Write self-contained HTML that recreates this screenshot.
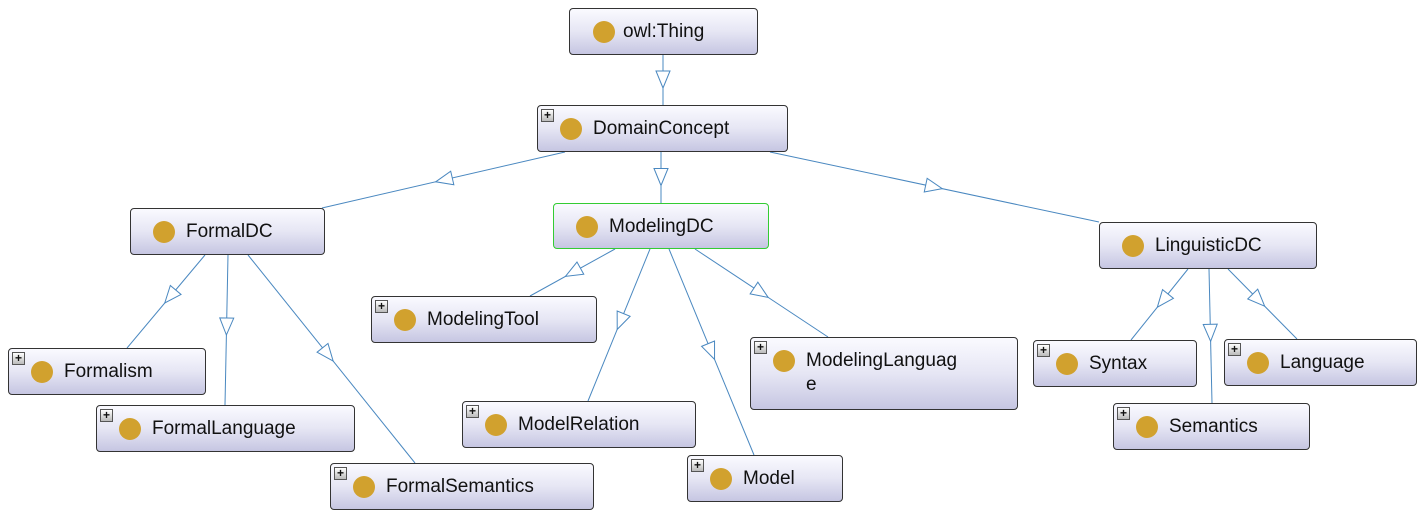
<!DOCTYPE html>
<html><head><meta charset="utf-8"><style>
body{margin:0;width:1424px;height:517px;background:#fff;position:relative;overflow:hidden;font-family:"Liberation Sans",sans-serif}
svg{position:absolute;left:0;top:0}
.n{position:absolute;box-sizing:border-box;border:1px solid #333;border-radius:4px;background:linear-gradient(#fafaff,#e6e6f4 50%,#c6c6e2);font-size:19px;color:#111}
.n .c{position:absolute;left:22px;top:12px;width:22px;height:22px;border-radius:50%;background:#d1a12e}
.n .t{position:absolute;left:55px;top:11px;line-height:24px;white-space:nowrap}
.n .p{position:absolute;left:3px;top:3px;width:11px;height:11px;border:1px solid #555;background:linear-gradient(#fff,#bbb);font-size:12px;line-height:10px;text-align:center;font-weight:bold}
.g{border:1px solid #3c3;}
</style></head><body>
<svg id="s" width="1424" height="517"></svg>
<div class="n" style="left:569px;top:8px;width:189px;height:47px"><div class="c" style="left:23px"></div><div class="t" style="left:53px">owl:Thing</div></div>
<div class="n" style="left:537px;top:105px;width:251px;height:47px"><div class="p">+</div><div class="c"></div><div class="t">DomainConcept</div></div>
<div class="n" style="left:130px;top:208px;width:195px;height:47px"><div class="c"></div><div class="t">FormalDC</div></div>
<div class="n g" style="left:553px;top:203px;width:216px;height:46px"><div class="c"></div><div class="t">ModelingDC</div></div>
<div class="n" style="left:1099px;top:222px;width:218px;height:47px"><div class="c"></div><div class="t">LinguisticDC</div></div>
<div class="n" style="left:371px;top:296px;width:226px;height:47px"><div class="p">+</div><div class="c"></div><div class="t">ModelingTool</div></div>
<div class="n" style="left:8px;top:348px;width:198px;height:47px"><div class="p">+</div><div class="c"></div><div class="t">Formalism</div></div>
<div class="n" style="left:96px;top:405px;width:259px;height:47px"><div class="p">+</div><div class="c"></div><div class="t">FormalLanguage</div></div>
<div class="n" style="left:330px;top:463px;width:264px;height:47px"><div class="p">+</div><div class="c"></div><div class="t">FormalSemantics</div></div>
<div class="n" style="left:462px;top:401px;width:234px;height:47px"><div class="p">+</div><div class="c"></div><div class="t">ModelRelation</div></div>
<div class="n" style="left:687px;top:455px;width:156px;height:47px"><div class="p">+</div><div class="c"></div><div class="t">Model</div></div>
<div class="n" style="left:750px;top:337px;width:268px;height:73px"><div class="p">+</div><div class="c"></div><div class="t">ModelingLanguag<br>e</div></div>
<div class="n" style="left:1033px;top:340px;width:164px;height:47px"><div class="p">+</div><div class="c"></div><div class="t">Syntax</div></div>
<div class="n" style="left:1113px;top:403px;width:197px;height:47px"><div class="p">+</div><div class="c"></div><div class="t">Semantics</div></div>
<div class="n" style="left:1224px;top:339px;width:193px;height:47px"><div class="p">+</div><div class="c"></div><div class="t">Language</div></div>
<script>
var E=[[663,55,663,105,.5],[565,152,322,208,.5],[661,152,661,203,.5],[770,152,1099,222,.5],
[205,255,127,348,.45],[228,255,225,405,.48],[248,255,415,463,.48],[615,249,530,296,.5],
[650,249,588,401,.48],[669,249,754,455,.5],[695,249,828,337,.5],[1188,269,1131,340,.45],
[1209,269,1212,403,.48],[1228,269,1297,339,.45]];
var h='';
E.forEach(function(e){var x1=e[0],y1=e[1],x2=e[2],y2=e[3],f=e[4];
h+='<line x1="'+x1+'" y1="'+y1+'" x2="'+x2+'" y2="'+y2+'" stroke="#4a88c0" stroke-width="1"/>';
var dx=x2-x1,dy=y2-y1,L=Math.hypot(dx,dy),ux=dx/L,uy=dy/L;
var tx=x1+dx*f+ux*8,ty=y1+dy*f+uy*8,bx=tx-ux*17,by=ty-uy*17,px=-uy*7,py=ux*7;
h+='<polygon points="'+tx+','+ty+' '+(bx+px)+','+(by+py)+' '+(bx-px)+','+(by-py)+'" fill="#fff" stroke="#4a88c0"/>';});
document.getElementById('s').innerHTML=h;
</script>
</body></html>
